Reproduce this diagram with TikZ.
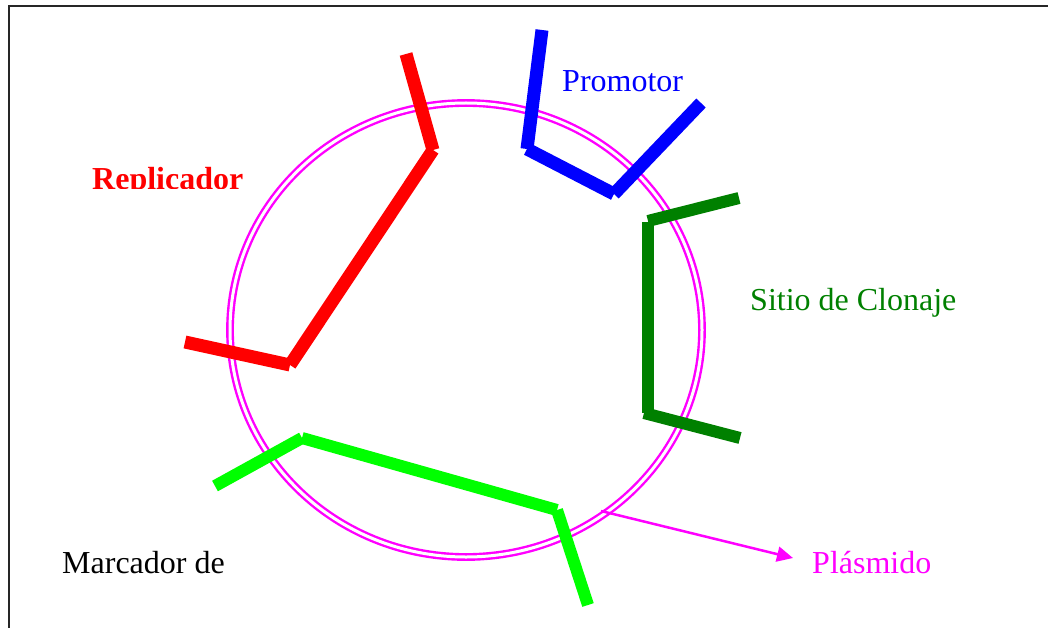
\documentclass[tikz,border=0pt]{standalone}
\usepackage{fontspec}
\setmainfont{Liberation Serif}
\usetikzlibrary{arrows.meta}
\definecolor{cRed}{RGB}{255,0,0}
\definecolor{cBlue}{RGB}{0,0,255}
\definecolor{cDkGreen}{RGB}{0,128,0}
\definecolor{cLtGreen}{RGB}{0,255,0}
\definecolor{cMag}{RGB}{255,0,255}
\tikzset{
  seg/.style={line width=13pt, line cap=butt},
  gseg/.style={line width=12pt, line cap=butt},
  lbl/.style={anchor=base west, inner sep=0pt, font=\fontsize{32}{38}\selectfont},
  ring/.style={draw=cMag, line width=2.4pt, double=white, double distance=3pt},
}
\begin{document}
\begin{tikzpicture}[x=1pt,y=-1pt]
\useasboundingbox (0,0) rectangle (1048,628);
% frame
\draw[line width=2.4pt, black!85] (9,628) -- (9,6) -- (1048,6);
% plasmid ring
\draw[ring] (466,330) ellipse [x radius=236, y radius=227];
% Replicador (red)
\coordinate (r1) at (406,54);
\coordinate (r2) at (433,150);
\coordinate (r3) at (290,365);
\coordinate (r4) at (185,342);
\draw[seg, cRed] (r1) -- (r2);
\draw[seg, cRed] (r2) -- (r3);
\draw[seg, cRed] (r3) -- (r4);
% Promotor (blue)
\coordinate (b1) at (542,30);
\coordinate (b2) at (527,149);
\coordinate (b3) at (614,194);
\coordinate (b4) at (701,103);
\draw[seg, cBlue] (b1) -- (b2);
\draw[seg, cBlue] (b2) -- (b3);
\draw[seg, cBlue] (b3) -- (b4);
% Sitio de Clonaje (dark green)
\coordinate (g1) at (739,198);
\coordinate (g2) at (648,221);
\coordinate (g3) at (648,222);
\coordinate (g4) at (648,413);
\coordinate (g5) at (644,413);
\coordinate (g6) at (740,438);
\draw[gseg, cDkGreen] (g1) -- (g2);
\draw[gseg, cDkGreen] (g3) -- (g4);
\draw[gseg, cDkGreen] (g5) -- (g6);
% Marcador (light green)
\coordinate (m1) at (215,486);
\coordinate (m2) at (302,438);
\coordinate (m3) at (557,510);
\coordinate (m4) at (588,605);
\draw[gseg, cLtGreen] (m1) -- (m2);
\draw[gseg, cLtGreen] (m2) -- (m3);
\draw[gseg, cLtGreen] (m3) -- (m4);
% labels
\begin{scope}
\clip (0,0) rectangle (1048,189);
\node[lbl, text=cRed, font=\fontsize{32}{38}\selectfont\bfseries] (rep) at (92,190) {Replicador};
\end{scope}
\node[lbl, text=cBlue] (pro) at (562,92) {Promotor};
\node[lbl, text=cDkGreen] (sit) at (750,310) {Sitio de Clonaje};
\node[lbl, text=black] (mar) at (62,573) {Marcador de};
\node[lbl, text=cMag] (pla) at (812,573) {Plásmido};
% arrow to plasmid label
\coordinate (a0) at (601,511);
\coordinate (a1) at (793,558);
\draw[cMag, line width=2.5pt, -{Triangle[length=16pt,width=15pt]}] (a0) -- (a1);
\end{tikzpicture}
\end{document}
